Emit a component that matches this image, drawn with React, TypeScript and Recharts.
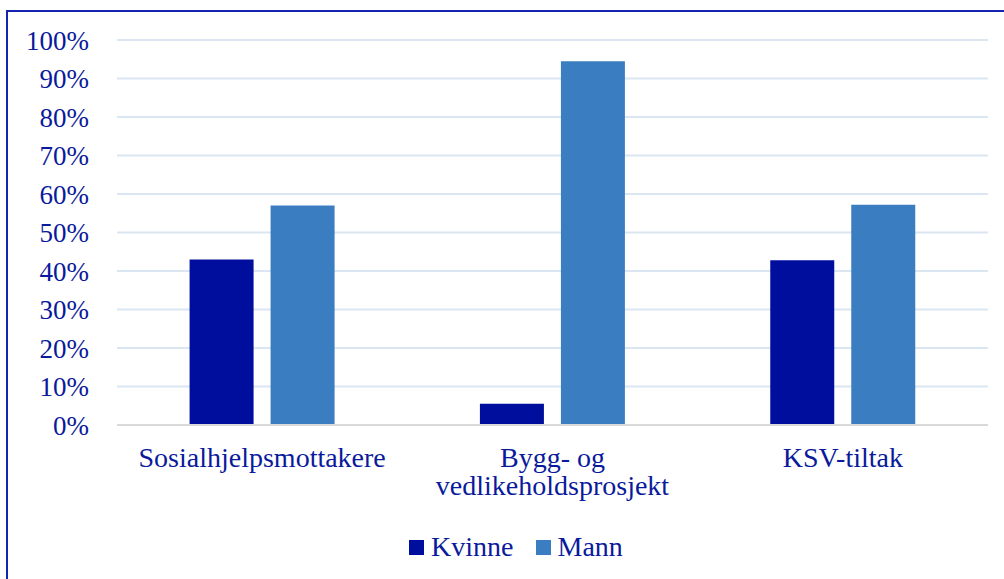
import { BarChart, Bar, XAxis, YAxis, CartesianGrid, Legend } from "recharts";

const categories = ["Sosialhjelpsmottakere", "Bygg- og vedlikeholdsprosjekt", "KSV-tiltak"];
const kvinne = [43, 5.5, 42.8];
const mann = [57, 94.5, 57.2];
const yTicks = [0, 10, 20, 30, 40, 50, 60, 70, 80, 90, 100];

const data = categories.map((name, i) => ({ name, Kvinne: kvinne[i], Mann: mann[i] }));

const FONT = "'Times New Roman', 'Liberation Serif', serif";
const TEXT = "#0a1a9c";

function CategoryTick(props: any) {
  const { x, y, payload } = props;
  const label: string = payload.value;
  const lines = label === "Bygg- og vedlikeholdsprosjekt" ? ["Bygg- og", "vedlikeholdsprosjekt"] : [label];
  return (
    <text x={x} y={y} textAnchor="middle" fill={TEXT} fontFamily={FONT} fontSize={28}>
      {lines.map((l, i) => (
        <tspan key={i} x={x} dy={i === 0 ? 34 : 28}>
          {l}
        </tspan>
      ))}
    </text>
  );
}

function LegendContent(props: any) {
  const { payload } = props;
  return (
    <div
      style={{
        display: "flex",
        justifyContent: "center",
        gap: 22,
        fontFamily: FONT,
        fontSize: 28,
        color: TEXT,
        lineHeight: "32px",
        transform: "translateX(22px)",
      }}
    >
      {payload.map((p: any) => (
        <span key={p.value} style={{ display: "flex", alignItems: "center" }}>
          <span style={{ width: 15, height: 15, background: p.color, marginRight: 7, display: "inline-block" }} />
          {p.value}
        </span>
      ))}
    </div>
  );
}

export default function App() {
  return (
    <div style={{ position: "absolute", left: 0, top: 0, width: 1004, height: 579, overflow: "hidden", background: "#fff" }}>
      <div
        style={{
          position: "absolute",
          left: 6,
          top: 10,
          width: 1020,
          height: 600,
          border: "2px solid #1424b0",
          boxSizing: "border-box",
        }}
      />
      <div style={{ position: "absolute", left: 0, top: 0 }}>
        <BarChart
          width={1004}
          height={579}
          data={data}
          margin={{ top: 40, right: 16, left: 0, bottom: 16 }}
          barCategoryGap="25%"
          barGap={17}
        >
          <CartesianGrid vertical={false} stroke="#dae6f2" strokeWidth={2} />
          <XAxis
            dataKey="name"
            tick={<CategoryTick />}
            tickLine={false}
            axisLine={{ stroke: "#d9d9d9", strokeWidth: 2 }}
            height={106}
            interval={0}
          />
          <YAxis
            domain={[0, 100]}
            ticks={yTicks}
            tickFormatter={(v) => `${v}%`}
            tick={{ fill: TEXT, fontFamily: FONT, fontSize: 27 }}
            tickLine={false}
            tickSize={0}
            tickMargin={28}
            axisLine={false}
            width={117}
          />
          <Legend verticalAlign="bottom" content={<LegendContent />} />
          <Bar dataKey="Kvinne" fill="#000e9e" isAnimationActive={false} />
          <Bar dataKey="Mann" fill="#3a7dc0" isAnimationActive={false} />
        </BarChart>
      </div>
    </div>
  );
}
